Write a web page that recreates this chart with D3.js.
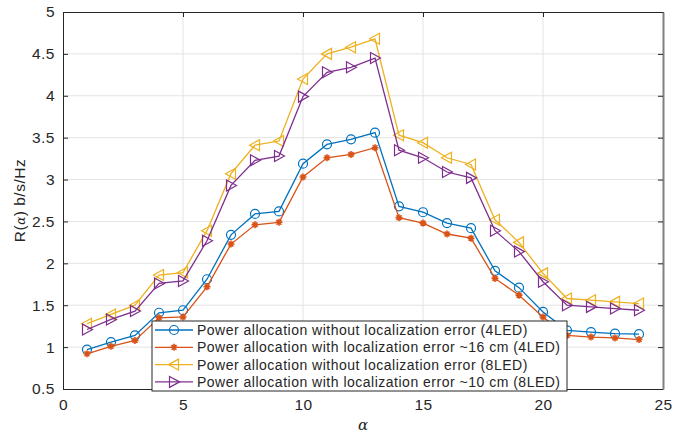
<!DOCTYPE html>
<html lang="en">
<head>
    <meta charset="UTF-8">
    <title>R(alpha) chart</title>
    <script src="https://d3js.org/d3.v7.min.js"></script>
    <style>
        body { margin: 0; background: #fff; }
        text { font-family: "Liberation Sans", Arial, sans-serif; fill: #262626; }
        .grid line { stroke: #e3e3e3; }
    </style>
</head>
<body>
    <svg width="684" height="439"></svg>
    <script>
        const alpha = d3.range(1, 25);
        const noErr4 = [0.97, 1.06, 1.14, 1.41, 1.44, 1.81, 2.34, 2.59, 2.62, 3.19, 3.42, 3.48, 3.56, 2.68, 2.61, 2.48, 2.42, 1.91, 1.71, 1.42, 1.20, 1.18, 1.16, 1.155];
        const err4 = [0.92, 1.01, 1.08, 1.35, 1.36, 1.72, 2.23, 2.46, 2.49, 3.03, 3.26, 3.30, 3.38, 2.545, 2.48, 2.35, 2.30, 1.82, 1.62, 1.36, 1.14, 1.12, 1.11, 1.09];
        const noErr8 = [1.28, 1.39, 1.50, 1.86, 1.89, 2.39, 3.07, 3.41, 3.46, 4.20, 4.50, 4.58, 4.68, 3.53, 3.44, 3.26, 3.18, 2.52, 2.25, 1.88, 1.58, 1.56, 1.54, 1.52];
        const err8 = [1.21, 1.33, 1.43, 1.76, 1.79, 2.27, 2.93, 3.23, 3.28, 3.99, 4.28, 4.34, 4.45, 3.35, 3.26, 3.09, 3.02, 2.39, 2.14, 1.78, 1.50, 1.48, 1.46, 1.44];
        const labels = [
            "Power allocation without localization error (4LED)",
            "Power allocation with localization error ~16 cm (4LED)",
            "Power allocation without localization error (8LED)",
            "Power allocation with localization error ~10 cm (8LED)"
        ];
        const xTicks = [0, 5, 10, 15, 20, 25];
        const yTicks = [0.5, 1, 1.5, 2, 2.5, 3, 3.5, 4, 4.5, 5];

        const series = [
            { name: labels[0], values: noErr4, color: "#0072BD", marker: "circle" },
            { name: labels[1], values: err4, color: "#D95319", marker: "star" },
            { name: labels[2], values: noErr8, color: "#EDB120", marker: "left" },
            { name: labels[3], values: err8, color: "#7E2F8E", marker: "right" }
        ];

        const svg = d3.select("svg");
        const mLeft = 63, mRight = 663, mTop = 12, mBottom = 389;

        const x = d3.scaleLinear().domain([0, 25]).range([mLeft, mRight]);
        const y = d3.scaleLinear().domain([0.5, 5]).range([mBottom, mTop]);

        // grid
        const grid = svg.append("g").attr("class", "grid");
        grid.selectAll(".gx").data(xTicks.slice(1, -1)).enter().append("line")
            .attr("x1", d => x(d)).attr("x2", d => x(d))
            .attr("y1", mTop).attr("y2", mBottom);
        grid.selectAll(".gy").data(yTicks.slice(1, -1)).enter().append("line")
            .attr("y1", d => y(d)).attr("y2", d => y(d))
            .attr("x1", mLeft).attr("x2", mRight);

        // axes
        const axisB = svg.append("g").attr("transform", `translate(0,${mBottom})`)
            .call(d3.axisBottom(x).tickValues(xTicks).tickSizeInner(-5).tickSizeOuter(0).tickPadding(10));
        const axisL = svg.append("g").attr("transform", `translate(${mLeft},0)`)
            .call(d3.axisLeft(y).tickValues(yTicks).tickFormat(d3.format("")).tickSizeInner(-5).tickSizeOuter(0).tickPadding(8));
        const axisT = svg.append("g").attr("transform", `translate(0,${mTop})`)
            .call(d3.axisTop(x).tickValues(xTicks).tickSizeInner(-5).tickSizeOuter(0).tickFormat(""));
        const axisR = svg.append("g").attr("transform", `translate(${mRight},0)`)
            .call(d3.axisRight(y).tickValues(yTicks).tickSizeInner(-5).tickSizeOuter(0).tickFormat(""));
        [axisB, axisL, axisT, axisR].forEach(a => {
            a.selectAll("path").attr("stroke", "#262626");
            a.selectAll("line").attr("stroke", "#262626");
            a.selectAll("text").style("font-size", "15.5px").style("letter-spacing", "0.5px").attr("fill", "#262626");
        });
        axisR.select("path").attr("stroke", "#808080").attr("stroke-width", 2);

        // markers
        function drawMarker(g, type, color) {
            if (type === "circle") {
                g.append("circle").attr("r", 4.5).attr("fill", "none").attr("stroke", color).attr("stroke-width", 1.2);
            } else if (type === "star") {
                const s = 3.5;
                g.append("path")
                    .attr("d", `M${-s},0H${s}M0,${-s}V${s}M${-s*0.7},${-s*0.7}L${s*0.7},${s*0.7}M${-s*0.7},${s*0.7}L${s*0.7},${-s*0.7}`)
                    .attr("stroke", color).attr("stroke-width", 1.6);
            } else if (type === "left") {
                g.append("path").attr("d", "M-5.5,0L4.5,-5.5L4.5,5.5Z")
                    .attr("fill", "none").attr("stroke", color).attr("stroke-width", 1.2);
            } else {
                g.append("path").attr("d", "M5.5,0L-4.5,-5.5L-4.5,5.5Z")
                    .attr("fill", "none").attr("stroke", color).attr("stroke-width", 1.2);
            }
        }

        const line = d3.line().x((d, i) => x(alpha[i])).y(d => y(d));
        series.forEach(s => {
            svg.append("path").datum(s.values)
                .attr("d", line).attr("fill", "none")
                .attr("stroke", s.color).attr("stroke-width", 1.3);
            s.values.forEach((v, i) => {
                const g = svg.append("g").attr("transform", `translate(${x(alpha[i])},${y(v)})`);
                drawMarker(g, s.marker, s.color);
            });
        });

        // axis labels
        const yl = svg.append("text")
            .attr("transform", `translate(25,${(mTop + mBottom) / 2}) rotate(-90)`)
            .attr("text-anchor", "middle").style("font-size", "15.5px").style("letter-spacing", "0.5px");
        yl.append("tspan").text("R(");
        yl.append("tspan").text("α").style("font-family", "'DejaVu Serif', serif").style("font-style", "italic").style("font-size", "12px");
        yl.append("tspan").text(")  b/s/Hz");

        svg.append("text").attr("x", (mLeft + mRight) / 2).attr("y", 430)
            .attr("text-anchor", "middle")
            .style("font-family", "'DejaVu Serif', serif").style("font-style", "italic").style("font-size", "15px")
            .text("α");

        // legend
        const lg = svg.append("g");
        const lx = 152, ly = 321, lw = 415, lh = 70;
        lg.append("rect").attr("x", lx).attr("y", ly).attr("width", lw).attr("height", lh)
            .attr("fill", "#fff").attr("stroke", "#262626").attr("stroke-width", 1);
        series.forEach((s, i) => {
            const yy = 330 + i * 17.3;
            lg.append("line").attr("x1", lx + 3).attr("x2", lx + 41).attr("y1", yy).attr("y2", yy)
                .attr("stroke", s.color).attr("stroke-width", 1.3);
            drawMarker(lg.append("g").attr("transform", `translate(${lx + 22},${yy})`), s.marker, s.color);
            lg.append("text").attr("x", lx + 45).attr("y", yy).attr("dy", "0.36em")
                .style("font-size", "14px").style("letter-spacing", "0.5px").text(s.name);
        });
    </script>
</body>
</html>
